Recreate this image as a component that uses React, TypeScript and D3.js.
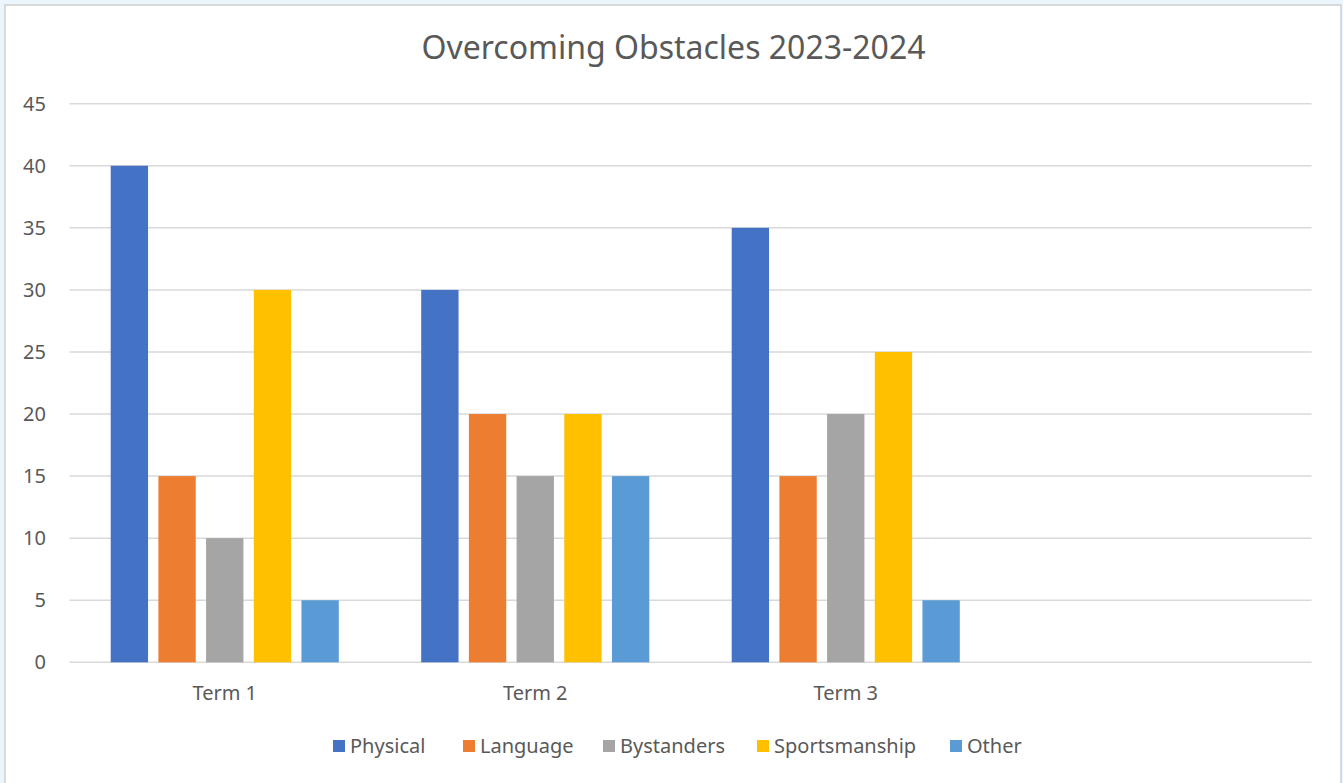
import React from 'react';
import * as d3 from 'd3';

const title = 'Overcoming Obstacles 2023-2024';
// 4th slot on the axis is empty in the original chart
const categories = ['Term 1', 'Term 2', 'Term 3', ' '];
const seriesNames = ['Physical', 'Language', 'Bystanders', 'Sportsmanship', 'Other'];
const physical = [40, 30, 35];
const language = [15, 20, 15];
const bystanders = [10, 15, 20];
const sportsmanship = [30, 20, 25];
const other = [5, 15, 5];
const yTicks = [0, 5, 10, 15, 20, 25, 30, 35, 40, 45];
const colors = ['#4472c4', '#ed7d31', '#a5a5a5', '#ffc000', '#5b9bd5'];

const seriesValues = [physical, language, bystanders, sportsmanship, other];

const W = 1343;
const H = 783;
const margin = { top: 103.7, right: 31.5, bottom: 120.7, left: 69.5 };
const textColor = '#595959';
const font = '"Noto Sans", "Open Sans", sans-serif';

// legend x positions of each swatch
const legendX = [333, 463, 603, 757, 950];

const App: React.FC = () => {
  const x0 = d3.scaleBand<string>()
    .domain(categories)
    .range([margin.left, W - margin.right])
    .padding(0);

  const x1 = d3.scaleBand<string>()
    .domain(seriesNames)
    .range([0, x0.bandwidth()])
    .paddingInner(0.217)
    .paddingOuter(0.864);

  const y = d3.scaleLinear()
    .domain([0, 45])
    .range([H - margin.bottom, margin.top]);

  const legendColor = d3.scaleOrdinal<string, string>().domain(seriesNames).range(colors);

  return (
    <svg width={W} height={H} style={{ position: 'absolute', left: 0, top: 0, display: 'block' }}>
      <rect x={0} y={0} width={W} height={H} fill="#eaf5fc" />
      <rect x={5} y={5} width={1336} height={800} fill="#ffffff" stroke="#d9d9d9" strokeWidth={2} />

      <text x={673.5} y={59} textAnchor="middle" fontFamily={font} fontSize={32} fill={textColor}>
        {title}
      </text>

      <g>
        {yTicks.map(t => (
          <g key={t}>
            <line x1={margin.left} x2={W - margin.right} y1={y(t)} y2={y(t)} stroke="#d9d9d9" strokeWidth={1.5} />
            <text x={46} y={y(t)} dy="0.35em" textAnchor="end" fontFamily={font} fontSize={20} fill={textColor}>
              {t}
            </text>
          </g>
        ))}
      </g>

      <g>
        {categories.map((c, ci) => (
          <g key={c} transform={`translate(${x0(c)},0)`}>
            {seriesNames.map((s, si) => {
              const v = seriesValues[si][ci];
              if (v === undefined) return null;
              return (
                <rect
                  key={s}
                  x={x1(s)}
                  y={y(v)}
                  width={x1.bandwidth()}
                  height={y(0) - y(v)}
                  fill={colors[si]}
                />
              );
            })}
            <text
              x={x0.bandwidth() / 2}
              y={y(0) + 38}
              textAnchor="middle"
              fontFamily={font}
              fontSize={20}
              fill={textColor}
            >
              {c.trim()}
            </text>
          </g>
        ))}
      </g>

      <g>
        {seriesNames.map((s, i) => (
          <g key={s} transform={`translate(${legendX[i]},740)`}>
            <rect x={0} y={0} width={12} height={12} fill={legendColor(s)} />
            <text x={17} y={6} dy="0.35em" fontFamily={font} fontSize={20} fill={textColor}>
              {s}
            </text>
          </g>
        ))}
      </g>
    </svg>
  );
};

export default App;
